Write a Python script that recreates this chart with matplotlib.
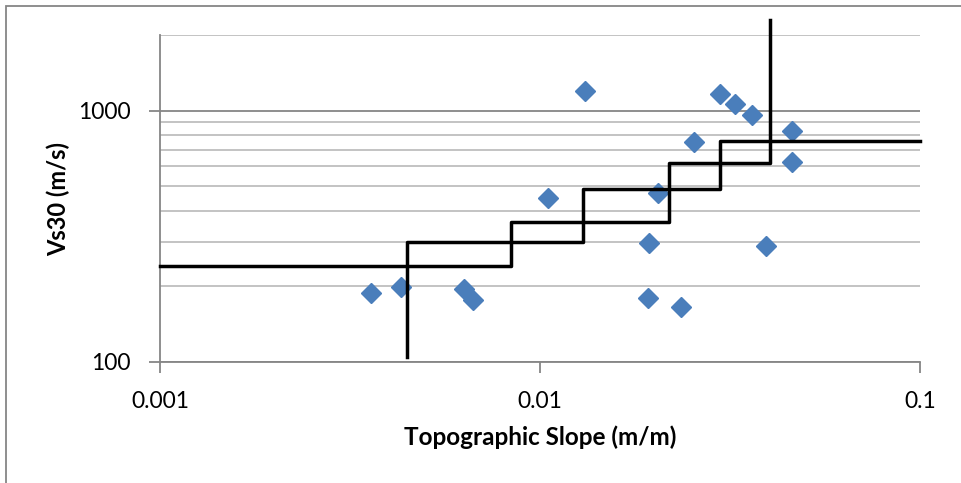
import matplotlib.pyplot as plt
from matplotlib.patches import Rectangle
from matplotlib.ticker import FixedLocator, FixedFormatter, NullFormatter, NullLocator

plt.rcParams['font.family'] = ['Lato', 'DejaVu Sans']

# measured sites
slope = [0.00360, 0.00430, 0.00631, 0.00665, 0.0105, 0.0131, 0.0192, 0.0193,
         0.0204, 0.0235, 0.0255, 0.0298, 0.0326, 0.0362, 0.0394, 0.0460, 0.0461]
vs30 = [188, 199, 195, 177, 451, 1198, 179, 297,
        472, 166, 748, 1162, 1063, 964, 290, 625, 832]

# class boundaries (step lines)
lower_x = [0.001, 0.0084, 0.0219, 0.0403]
lower_y = [240, 360, 620, 2300]
upper_x = [0.00446, 0.0130, 0.0298, 0.1]
upper_y = [105, 300, 490, 760]

x_ticks = [0.001, 0.01, 0.1]
x_labels = ['0.001', '0.01', '0.1']
y_ticks = [100, 1000]
y_labels = ['100', '1000']
y_minor = [200, 300, 400, 500, 600, 700, 800, 900, 2000]

axis_grey = '#868686'

fig = plt.figure(figsize=(9.61, 4.83), dpi=100)
ax = fig.add_axes([160 / 961, 1 - 362 / 483, 760 / 961, 327 / 483])
ax.set_xscale('log')
ax.set_yscale('log')
ax.set_xlim(0.001, 0.1)
ax.set_ylim(100, 2000)

ax.plot(slope, vs30, linestyle='none', marker='D', markersize=10,
        color='#4A7EBB', markeredgecolor='#4A7EBB', zorder=3)
ax.step(lower_x, lower_y, where='post', color='black', lw=2.5, zorder=4, clip_on=False)
ax.step(upper_x, upper_y, where='pre', color='black', lw=2.5, zorder=4, clip_on=False)

ax.xaxis.set_major_locator(FixedLocator(x_ticks))
ax.xaxis.set_major_formatter(FixedFormatter(x_labels))
ax.xaxis.set_minor_locator(NullLocator())
ax.yaxis.set_major_locator(FixedLocator(y_ticks))
ax.yaxis.set_major_formatter(FixedFormatter(y_labels))
ax.yaxis.set_minor_locator(FixedLocator(y_minor))
ax.yaxis.set_minor_formatter(NullFormatter())

ax.yaxis.grid(True, which='major', color=axis_grey, lw=1.3, zorder=1)
ax.yaxis.grid(True, which='minor', color='#BEBEBE', lw=1.3, zorder=1)
ax.set_axisbelow(True)

ax.tick_params(which='major', length=8, width=1.3, color=axis_grey, labelsize=16.5, pad=13)
ax.tick_params(which='minor', length=0)
for s in ['top', 'right']:
    ax.spines[s].set_visible(False)
for s in ['left', 'bottom']:
    ax.spines[s].set_color(axis_grey)
    ax.spines[s].set_linewidth(1.3)

fig.text(540 / 961, 1 - 437 / 483, 'Topographic Slope (m/m)', ha='center', va='center',
         fontsize=17.5, fontweight='bold')
fig.text(58 / 961, 1 - 199 / 483, 'Vs30 (m/s)', ha='center', va='center', rotation=90,
         fontsize=17, fontweight='bold')

# title sits mostly above the cropped image, only descenders show
fig.text(500 / 961, 1 + 6 / 483, 'Vs30 against Slope for the Sample Sites', ha='center',
         va='baseline', fontsize=24, fontweight='bold')

fig.patches.append(Rectangle((6 / 961, -0.2), 2.0, 1.2 - 5.5 / 483, transform=fig.transFigure,
                             fill=False, edgecolor=axis_grey, lw=1.3))

fig.savefig('out.png', dpi=100)
